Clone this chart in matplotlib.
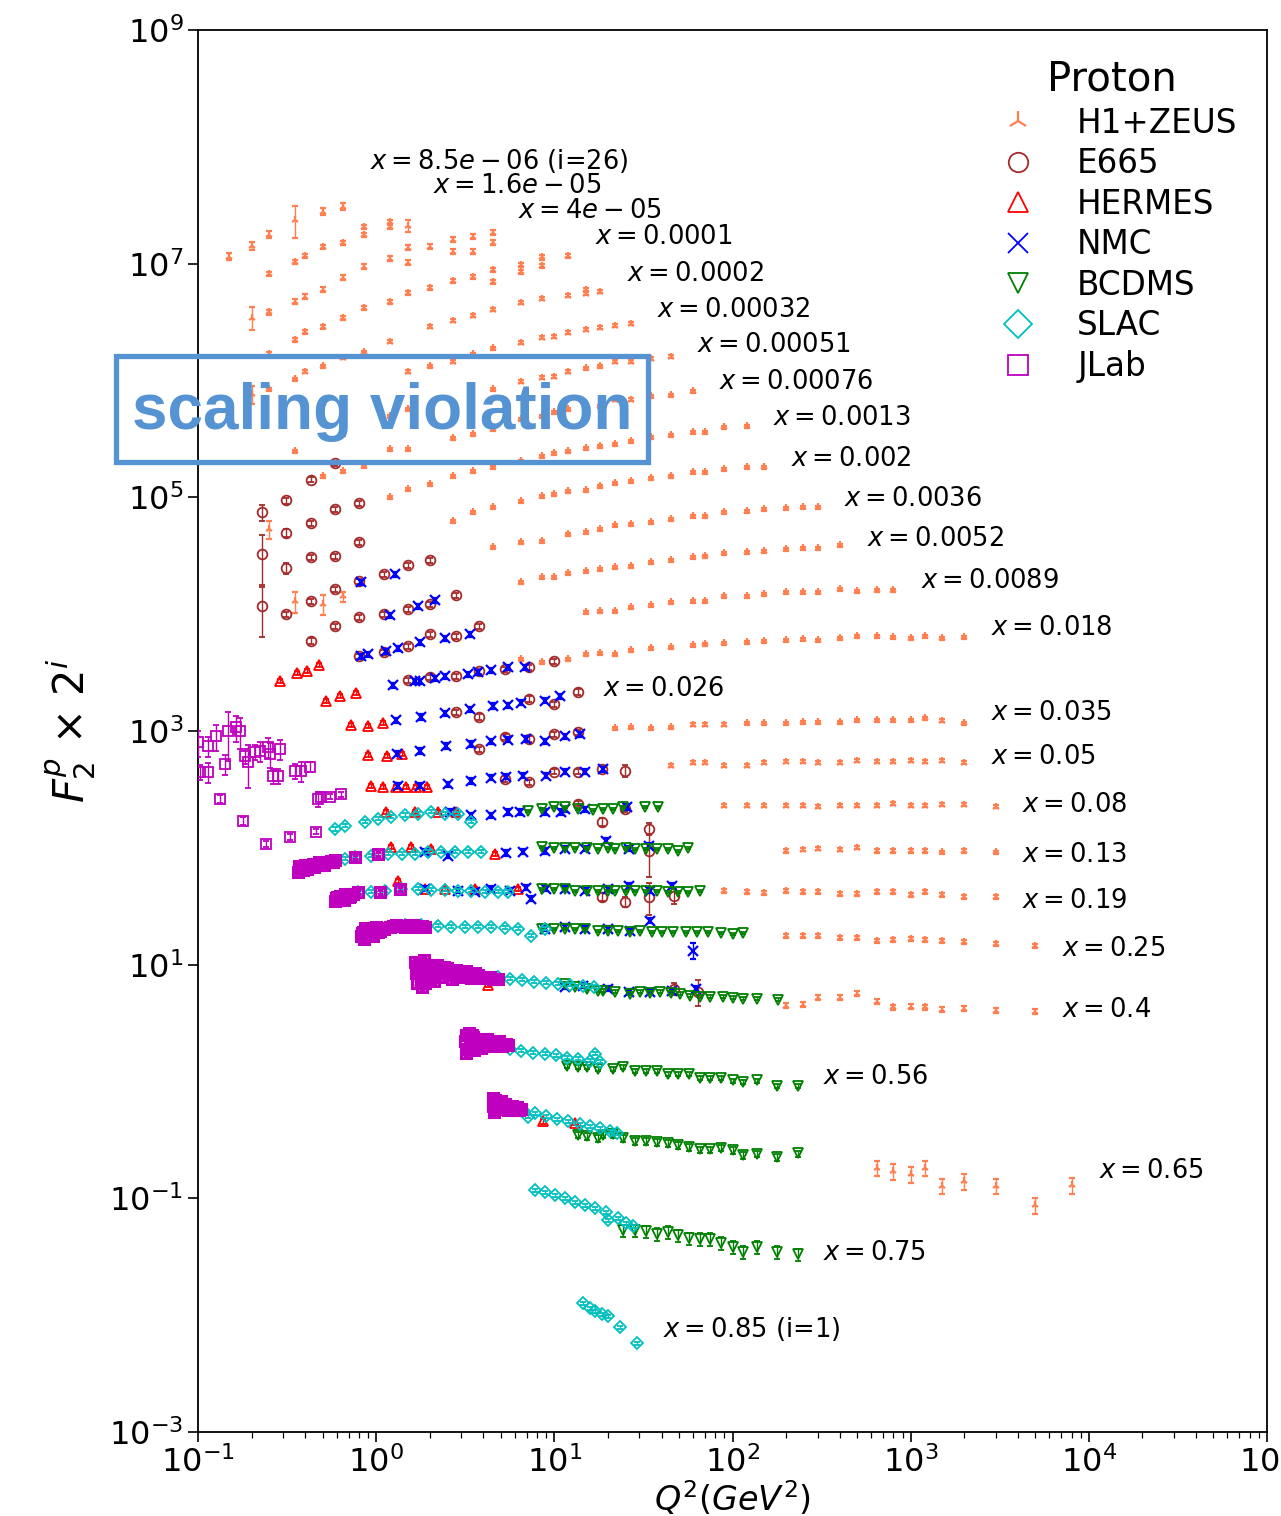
import numpy as np
import matplotlib.pyplot as plt
from matplotlib.lines import Line2D
from matplotlib.patches import Rectangle
from matplotlib.ticker import NullLocator

# ---------------- H1+ZEUS (values are F2 x 2^i, one list per x bin) ----------------
h1_q2 = [
    [0.15, 0.2, 0.25, 0.5, 0.65],
    [0.25, 0.35, 0.4, 0.5, 0.65, 0.85, 0.85, 1.2, 1.2],
    [0.25, 0.35, 0.4, 0.5, 0.65, 0.85, 1.2, 1.5, 1.5, 2.0, 2.7, 2.7, 3.5, 3.5, 4.5, 4.5],
    [0.25, 0.35, 0.4, 0.5, 0.65, 0.85, 1.2, 1.5, 2.0, 2.7, 3.5, 4.5, 4.5, 6.5, 6.5, 8.5, 8.5, 12],
    [0.25, 0.35, 0.4, 0.5, 0.65, 0.85, 1.2, 2.0, 2.7, 3.5, 4.5, 6.5, 8.5, 12, 15, 15, 18],
    [0.4, 0.5, 1.5, 2.0, 2.7, 3.5, 4.5, 6.5, 8.5, 10, 12, 15, 18, 22, 27],
    [0.35, 0.65, 1.2, 1.5, 2.0, 4.5, 6.5, 8.5, 10, 12, 15, 18, 22, 27, 35, 45],
    [0.5, 0.65, 0.85, 1.2, 1.5, 2.7, 3.5, 4.5, 6.5, 8.5, 10, 12, 15, 18, 22, 27, 35, 45, 60],
    [1.2, 1.5, 2.0, 2.7, 3.5, 4.5, 6.5, 8.5, 10, 12, 15, 18, 22, 27, 35, 45, 60, 70, 90, 120],
    [2.7, 3.5, 4.5, 6.5, 8.5, 10, 12, 15, 18, 22, 27, 35, 45, 60, 70, 90, 120, 150],
    [4.5, 6.5, 8.5, 12, 15, 18, 22, 27, 35, 45, 60, 70, 90, 120, 150, 200, 250, 300],
    [6.5, 8.5, 10, 12, 15, 18, 22, 27, 35, 45, 60, 70, 90, 120, 150, 200, 250, 300, 400],
    [15, 18, 22, 27, 35, 45, 60, 70, 90, 120, 150, 200, 250, 300, 400, 500, 650, 800],
    [6.5, 8.5, 12, 15, 18, 22, 27, 35, 45, 60, 70, 90, 120, 150, 200, 250, 300, 400, 500,
     650, 800, 1000, 1200, 1500, 2000],
    [22, 27, 35, 45, 60, 70, 90, 120, 150, 200, 250, 300, 400, 500, 650, 800, 1000, 1200, 1500, 2000],
    [45, 60, 70, 90, 120, 150, 200, 250, 300, 400, 500, 650, 800, 1000, 1200, 1500, 2000],
    [90, 120, 150, 200, 250, 300, 400, 500, 650, 800, 1000, 1200, 1500, 2000, 3000],
    [200, 250, 300, 400, 500, 650, 800, 1000, 1200, 1500, 2000, 3000],
    [90, 120, 150, 200, 250, 300, 400, 500, 650, 800, 1000, 1200, 1500, 2000, 3000],
    [200, 250, 300, 400, 500, 650, 800, 1000, 1200, 1500, 2000, 3000, 5000],
    [200, 250, 300, 400, 500, 650, 800, 1000, 1200, 1500, 2000, 3000, 5000],
    [650, 800, 1000, 1200, 1500, 2000, 3000, 5000, 8000],
]
h1_f2 = [
    [1.15e7, 1.42e7, 1.77e7, 2.78e7, 3.07e7],
    [8.2e6, 1.04e7, 1.17e7, 1.40e7, 1.51e7, 2.07e7, 1.77e7, 2.29e7, 2.07e7],
    [3.82e6, 4.73e6, 5.22e6, 6.0e6, 7.6e6, 9.4e6, 1.10e7, 1.02e7, 1.37e7, 1.40e7, 1.27e7, 1.60e7,
     1.27e7, 1.70e7, 1.51e7, 1.84e7],
    [1.70e6, 2.24e6, 2.62e6, 2.89e6, 3.46e6, 4.2e6, 4.73e6, 5.65e6, 6.23e6, 7.16e6, 7.75e6, 8.9e6,
     7.0e6, 9.8e6, 8.55e6, 1.13e7, 9.6e6, 1.17e7],
    [8.4e5, 1.02e6, 1.19e6, 1.32e6, 1.57e6, 1.74e6, 2.15e6, 2.89e6, 3.26e6, 3.59e6, 4.05e6, 4.64e6,
     5.03e6, 5.33e6, 5.55e6, 6.0e6, 5.77e6],
    [5.77e5, 6.37e5, 1.19e6, 1.32e6, 1.45e6, 1.67e6, 1.88e6, 2.11e6, 2.33e6, 2.38e6, 2.57e6, 2.73e6,
     2.84e6, 2.95e6, 3.07e6],
    [2.47e5, 3.46e5, 4.93e5, 5.65e5, 6.0e5, 8.4e5, 9.8e5, 1.06e6, 1.08e6, 1.19e6, 1.27e6, 1.32e6,
     1.45e6, 1.45e6, 1.54e6, 1.60e6],
    [1.51e5, 1.67e5, 1.84e5, 2.57e5, 2.57e5, 3.19e5, 3.46e5, 3.82e5, 4.64e5, 4.93e5, 5.33e5, 5.65e5,
     6.0e5, 6.0e5, 6.87e5, 6.87e5, 7.3e5, 7.45e5, 8.06e5],
    [1.0e5, 1.17e5, 1.29e5, 1.51e5, 1.67e5, 1.81e5, 2.03e5, 2.24e5, 2.38e5, 2.47e5, 2.62e5, 2.73e5,
     2.84e5, 3.01e5, 3.26e5, 3.39e5, 3.59e5, 3.59e5, 3.97e5, 4.05e5],
    [6.23e4, 7.45e4, 8.2e4, 9.25e4, 1.02e5, 1.06e5, 1.13e5, 1.15e5, 1.24e5, 1.32e5, 1.37e5, 1.45e5,
     1.51e5, 1.64e5, 1.64e5, 1.74e5, 1.81e5, 1.81e5],
    [3.74e4, 4.13e4, 4.21e4, 4.83e4, 5.03e4, 5.33e4, 5.77e4, 5.88e4, 6.12e4, 6.49e4, 6.87e4, 6.87e4,
     7.45e4, 7.6e4, 7.9e4, 8.06e4, 8.2e4, 8.2e4],
    [1.88e4, 2.07e4, 2.07e4, 2.24e4, 2.33e4, 2.42e4, 2.52e4, 2.57e4, 2.78e4, 2.89e4, 3.07e4, 3.13e4,
     3.32e4, 3.39e4, 3.46e4, 3.59e4, 3.66e4, 3.66e4, 3.89e4],
    [1.04e4, 1.06e4, 1.06e4, 1.15e4, 1.19e4, 1.27e4, 1.29e4, 1.29e4, 1.42e4, 1.42e4, 1.48e4, 1.54e4,
     1.54e4, 1.54e4, 1.64e4, 1.57e4, 1.60e4, 1.60e4],
    [4.13e3, 3.89e3, 4.13e3, 4.55e3, 4.64e3, 4.55e3, 4.93e3, 5.13e3, 5.22e3, 5.44e3, 5.55e3, 5.65e3,
     5.77e3, 5.88e3, 6.0e3, 6.12e3, 6.0e3, 6.23e3, 6.49e3, 6.49e3, 6.36e3, 6.23e3, 6.49e3, 6.23e3, 6.36e3],
    [1.06e3, 1.08e3, 1.06e3, 1.08e3, 1.13e3, 1.13e3, 1.13e3, 1.17e3, 1.17e3, 1.17e3, 1.19e3, 1.19e3,
     1.19e3, 1.24e3, 1.24e3, 1.24e3, 1.24e3, 1.29e3, 1.22e3, 1.17e3],
    [503, 533, 533, 503, 503, 533, 544, 544, 533, 533, 555, 544, 544, 555, 544, 555, 533],
    [229, 229, 229, 229, 229, 224, 229, 229, 229, 238, 229, 229, 233, 233, 224],
    [94, 96, 98, 96, 100, 94, 94, 94, 94, 92, 94, 92],
    [43.0, 42.1, 41.3, 43.0, 42.1, 42.1, 40.5, 40.5, 42.1, 42.1, 39.7, 42.1, 39.7, 38.2, 38.2],
    [17.7, 17.7, 17.7, 17.0, 17.0, 16.0, 16.4, 16.7, 16.4, 16.0, 15.7, 15.1, 14.5],
    [4.47, 4.55, 5.22, 5.22, 5.65, 4.83, 4.30, 4.38, 4.30, 4.13, 4.21, 4.05, 3.97],
    [0.181, 0.170, 0.160, 0.181, 0.127, 0.140, 0.127, 0.087, 0.129],
]
h1_err_pct = [7, 4, 5, 4, 3, 3, 3, 3, 3, 3, 3, 3, 3, 3, 3, 3, 3, 3, 4, 4, 5, 15]
# points with large error bars
h1_wide_q2 = [0.35, 1.5, 0.2, 0.2, 0.25, 0.35, 0.5, 0.65]
h1_wide_f2 = [2.38e7, 2.11e7, 3.46e6, 7.6e5, 5.33e4, 1.29e4, 1.22e4, 1.42e4]
h1_wide_pct = [30, 12, 22, 17, 17, 20, 20, 10]

# ---------------- E665 ----------------
e665_q2 = [0.23, 0.31, 0.43, 0.59, 0.23, 0.31, 0.43, 0.59, 0.8, 0.23, 0.31, 0.43, 0.59, 0.8,
           0.31, 0.43, 0.59, 0.8, 1.1, 1.5, 2.0, 2.8, 1.5, 1.1, 0.8, 2.0,
           0.43, 0.59, 0.8, 1.1, 1.5, 2.0, 2.8, 3.8,
           1.5, 2.0, 2.8, 3.8, 5.3, 7.2, 9.9, 2.8, 3.8, 7.2, 9.9, 13.5,
           5.3, 7.2, 3.8, 9.9, 13.5, 5.3, 7.2, 9.9, 13.5, 18.6, 25,
           13.5, 18.6, 25, 34, 34, 18.6, 25, 34, 47, 47, 64]
e665_f2 = [7.45e4, 9.4e4, 1.42e5, 1.95e5, 3.26e4, 4.93e4, 6.0e4, 7.9e4, 8.9e4,
           1.17e4, 2.47e4, 3.07e4, 3.13e4, 4.13e4,
           1.0e4, 1.29e4, 1.64e4, 1.91e4, 2.20e4, 2.62e4, 2.89e4, 1.45e4, 1.10e4, 1.0e4, 9.4e3, 1.22e4,
           5.88e3, 7.9e3, 4.38e3, 4.73e3, 5.33e3, 6.75e3, 6.49e3, 7.9e3,
           2.73e3, 2.89e3, 2.95e3, 3.26e3, 3.39e3, 3.52e3, 3.97e3, 1.45e3, 1.32e3, 1.88e3, 1.70e3, 2.15e3,
           890, 855, 700, 940, 980, 389, 366, 447, 447, 473, 455,
           238, 167, 215, 145, 94, 38.2, 34.6, 38.2, 38.9, 6.23, 5.88]
e665_pct = [15, 6, 5, 5, 45, 8, 5, 5, 5, 45, 10, 5, 5, 5,
            5, 5, 5, 5, 5, 5, 5, 5, 5, 5, 5, 5,
            6, 5, 5, 5, 5, 5, 5, 5,
            5, 5, 5, 5, 5, 5, 5, 5, 5, 5, 5, 6,
            5, 5, 5, 5, 5, 5, 5, 5, 5, 6, 12,
            5, 8, 6, 12, 40, 8, 10, 30, 15, 12, 25]

# ---------------- HERMES ----------------
hermes_q2 = [0.29, 0.36, 0.41, 0.48, 0.52, 0.63, 0.77, 0.72, 0.90, 1.09, 0.90, 1.15, 1.40,
             0.94, 1.09, 1.29, 1.47, 1.68, 1.94, 1.14, 1.66, 2.23, 2.81,
             1.21, 1.57, 2.04, 4.67, 1.33, 1.88, 2.44, 3.6, 6.28, 4.26, 8.67, 13.1]
hermes_f2 = [2.68e3, 3.13e3, 3.26e3, 3.66e3, 1.81e3, 1.99e3, 2.11e3, 1.13e3, 1.10e3, 1.17e3,
             623, 612, 637, 339, 332, 332, 332, 332, 332, 203, 203, 203, 203,
             102, 102, 98, 89, 52.2, 44.7, 44.7, 44.7, 44.7, 6.75, 0.455, 0.438]
hermes_pct = 4

# ---------------- NMC ----------------
nmc_q2 = [0.82, 1.28, 1.72, 2.14, 1.20,
          0.82, 0.90, 1.14, 1.33, 1.77, 2.44, 3.38,
          1.25, 1.66, 1.77, 2.14, 2.44, 3.29, 3.74, 4.43, 5.52, 6.87,
          1.29, 1.79, 2.44, 3.38, 4.5, 5.52, 6.52, 8.89, 10.8,
          1.31, 1.77, 2.47, 3.42, 4.43, 5.52, 6.96, 8.89, 11.5, 14.0,
          1.33, 1.77, 2.54, 3.42, 4.43, 5.37, 6.7, 9.0, 11.5, 14.9, 18.8,
          2.6, 3.42, 4.43, 5.52, 6.45, 8.89, 10.9, 11.5, 14.9, 25.7,
          1.88, 2.54, 5.37, 6.7, 8.89, 11.5, 14.9, 19.4, 26.1, 34.2,
          1.88, 2.89, 3.6, 4.43, 5.66, 6.96, 7.43, 9.0, 11.5, 14.9, 19.9, 26.1, 34.6, 46.0,
          11.5, 8.89, 14.9, 19.9, 26.7, 34.6,
          11.5, 14.4, 19.9, 26.1, 34.6, 46.0, 62.0]
nmc_f2 = [1.88e4, 2.20e4, 1.17e4, 1.32e4, 9.8e3,
          4.38e3, 4.55e3, 4.83e3, 5.13e3, 5.77e3, 6.23e3, 6.75e3,
          2.47e3, 2.68e3, 2.68e3, 2.84e3, 2.95e3, 3.07e3, 3.19e3, 3.32e3, 3.52e3, 3.52e3,
          1.24e3, 1.32e3, 1.42e3, 1.54e3, 1.64e3, 1.67e3, 1.74e3, 1.81e3, 1.99e3,
          637, 675, 745, 775, 820, 840, 855, 820, 905, 940,
          339, 339, 352, 374, 397, 405, 413, 413, 447, 447, 473,
          203, 191, 191, 203, 203, 203, 203, 215, 215, 224,
          92.5, 85.5, 90.5, 92.5, 94, 98, 98, 115, 98, 104,
          44.7, 43.0, 42.1, 44.7, 43.0, 45.5, 36.6, 44.7, 44.7, 43.0, 44.7, 47.3, 43.0, 47.3,
          21.1, 20.3, 20.3, 20.3, 19.5, 23.8,
          6.49, 6.6, 6.23, 5.88, 5.88, 6.0, 6.23]
nmc_pct = 5
nmc_wide_q2 = [60.4]
nmc_wide_f2 = [13.2]
nmc_wide_pct = [15]

# ---------------- BCDMS (one list per x bin) ----------------
bcdms_q2 = [
    [7.15, 8.5, 9.9, 11.5, 13.5, 16.5, 18.8, 21.4, 24.3, 32.4, 38.0],
    [8.5, 9.9, 11.5, 13.1, 15.3, 17.5, 19.9, 22.0, 25.1, 28.5, 32.5, 37.9, 43.2, 49.7, 56.6],
    [8.5, 9.9, 11.5, 13.1, 15.3, 17.5, 19.9, 22.0, 25.1, 28.5, 32.5, 37.9, 43.2, 49.7, 56.6, 66],
    [8.5, 9.9, 11.5, 13.1, 14.9, 17.5, 19.9, 22.9, 26.7, 30.4, 35.5, 40.4, 46.6, 54.5, 63.6, 73.3,
     85.7, 100, 115],
    [11.5, 13.1, 15.3, 17.5, 18.8, 22.0, 26.7, 30.4, 34.6, 39.4, 44.9, 51, 58, 66, 75, 88, 100,
     115, 138, 179],
    [11.8, 13.5, 15.3, 17.5, 21.4, 24.3, 28.5, 32.9, 37.9, 43.2, 49.7, 57.3, 65.3, 75, 86.7, 100,
     115, 138, 177, 232],
    [13.5, 15.3, 17.5, 18.8, 21.4, 24.3, 28.5, 32.9, 37.9, 43.2, 49.7, 57.3, 65.3, 75, 86.7, 100,
     115, 138, 177, 232],
    [24.3, 28.5, 32.9, 37.9, 43.2, 49.7, 57.3, 65.3, 75, 86.7, 100, 115, 138, 177, 232],
]
bcdms_f2 = [
    [207, 215, 224, 224, 215, 211, 215, 215, 224, 224, 224],
    [102, 100, 100, 100, 100, 98, 100, 98, 100, 98, 98, 98, 98, 94, 100],
    [44.7, 44.7, 44.7, 43.0, 43.0, 43.0, 43.0, 43.0, 43.0, 43.0, 43.0, 43.0, 42.1, 42.1, 42.1, 43.0],
    [20.3, 20.3, 20.3, 20.3, 20.3, 19.5, 19.5, 19.5, 19.1, 19.5, 19.1, 19.1, 19.1, 19.1, 19.1, 19.1,
     18.8, 18.4, 18.8],
    [6.87, 6.49, 6.2, 6.0, 6.0, 5.88, 5.65, 5.88, 5.77, 5.88, 5.77, 5.65, 5.44, 5.33, 5.33, 5.33,
     5.22, 5.13, 5.13, 5.03],
    [1.37, 1.34, 1.32, 1.29, 1.29, 1.34, 1.24, 1.22, 1.22, 1.17, 1.15, 1.15, 1.08, 1.08, 1.08, 1.02,
     1.0, 1.02, 0.924, 0.924],
    [0.346, 0.339, 0.326, 0.346, 0.352, 0.326, 0.307, 0.307, 0.301, 0.295, 0.284, 0.273, 0.262,
     0.262, 0.268, 0.257, 0.233, 0.238, 0.224, 0.242],
    [0.0533, 0.0533, 0.0522, 0.0493, 0.0513, 0.0483, 0.0455, 0.0447, 0.0447, 0.0413, 0.0382,
     0.0346, 0.0382, 0.0346, 0.0332],
]
bcdms_err_pct = [2, 2, 2, 2, 3, 4, 6, 12]

# ---------------- SLAC (one list per x bin) ----------------
slac_q2 = [
    [0.59, 0.67, 0.87, 1.03, 1.21, 1.46, 1.72, 2.04, 2.44, 2.89, 3.42],
    [0.67, 0.76, 0.94, 1.17, 1.40, 1.66, 1.96, 2.32, 2.78, 3.29, 3.89],
    [0.79, 0.94, 1.12, 1.38, 1.72, 2.04, 2.44, 2.89, 3.42, 4.09, 4.84, 5.52],
    [1.25, 1.46, 1.79, 2.23, 2.64, 3.16, 3.74, 4.43, 5.3, 6.28, 7.43, 8.89],
    [4.84, 5.66, 6.6, 7.7, 9.0, 10.5, 12.3, 14.4, 16.8],
    [5.66, 6.52, 7.6, 8.89, 10.2, 11.8, 13.5, 15.9, 17.0, 18.1],
    [6.7, 7.15, 7.8, 9.0, 10.4, 12.0, 14.0, 15.9, 18.1, 20.6, 22.6],
    [7.8, 8.9, 10.1, 11.5, 13.1, 14.9, 17.0, 19.4, 20.1, 22.9, 25.1, 27.5],
    [14.5, 15.9, 17.0, 18.6, 20.1, 23.4, 29.0],
]
slac_f2 = [
    [145, 154, 167, 177, 184, 191, 195, 203, 195, 195, 167],
    [80.6, 84, 85.5, 89, 89, 89, 92.5, 92.5, 92.5, 92.5, 92.5],
    [42.1, 42.1, 43.0, 44.7, 44.7, 43.8, 43.8, 43.0, 43.0, 42.1, 42.1, 42.1],
    [21.5, 22.0, 22.0, 21.5, 21.1, 21.1, 21.1, 21.1, 20.7, 20.3, 17.7, 20.3],
    [7.9, 7.6, 7.45, 7.16, 7.0, 6.87, 6.75, 6.6, 6.49],
    [1.91, 1.84, 1.77, 1.73, 1.67, 1.60, 1.57, 1.51, 1.73, 1.48],
    [0.565, 0.50, 0.533, 0.503, 0.473, 0.455, 0.430, 0.413, 0.397, 0.374, 0.359],
    [0.117, 0.113, 0.106, 0.100, 0.0925, 0.0872, 0.082, 0.076, 0.065, 0.0675, 0.061, 0.0577],
    [0.0127, 0.0115, 0.0108, 0.0102, 0.0098, 0.0079, 0.00577],
]
slac_pct = 3

# ---------------- JLab ----------------
jlab_q2 = [0.10, 0.114, 0.126, 0.142, 0.147, 0.163, 0.172, 0.103, 0.114, 0.133, 0.184, 0.191,
           0.209, 0.223, 0.247, 0.254, 0.289, 0.281, 0.264, 0.351, 0.379, 0.426, 0.472, 0.491,
           0.552, 0.636, 0.179, 0.241, 0.329, 0.46]
jlab_f2 = [806, 745, 905, 522, 1000, 1080, 1000, 447, 447, 262, 612, 544,
           660, 675, 730, 637, 700, 413, 413, 455, 455, 493, 262, 273,
           273, 289, 170, 108, 124, 137]
jlab_pct = [25, 20, 25, 20, 45, 25, 30, 15, 20, 8, 15, 40,
            15, 20, 20, 25, 20, 15, 15, 15, 20, 10, 15, 10,
            5, 5, 8, 5, 5, 5]
# dense low-W clusters, one list per x bin
jlab_blob_q2 = [
    [0.365, 0.37, 0.37, 0.38, 0.39, 0.39, 0.40, 0.41, 0.41, 0.42, 0.43, 0.44, 0.45, 0.46, 0.47,
     0.48, 0.49, 0.50, 0.51, 0.53, 0.54, 0.56, 0.57, 0.59, 0.76, 1.03],
    [0.59, 0.595, 0.60, 0.61, 0.62, 0.63, 0.64, 0.65, 0.66, 0.67, 0.68, 0.70, 0.71, 0.72, 0.74,
     0.79, 1.05, 1.36],
    [0.82, 0.83, 0.84, 0.85, 0.86, 0.87, 0.88, 0.89, 0.90, 0.91, 0.93, 0.95, 0.96, 0.98, 1.0,
     1.02, 1.05, 1.08, 1.1, 1.2, 1.25, 1.3, 1.35, 1.4, 1.45, 1.5, 1.55, 1.6, 1.7, 1.75, 1.8, 1.88],
    [1.66, 1.68, 1.7, 1.72, 1.75, 1.78, 1.8, 1.82, 1.85, 1.88, 1.9, 1.95, 2.0, 2.05, 2.1, 2.15,
     2.2, 2.25, 2.35, 2.4, 2.5, 2.55, 2.65, 2.7, 2.8, 2.9, 3.0, 3.1, 3.2, 3.3, 3.4, 3.5, 3.6,
     3.75, 3.9, 4.05, 4.2, 4.35, 4.5, 4.65, 4.84],
    [3.16, 3.18, 3.2, 3.25, 3.3, 3.35, 3.4, 3.45, 3.5, 3.55, 3.6, 3.7, 3.8, 3.9, 4.0, 4.1, 4.2,
     4.3, 4.4, 4.5, 4.6, 4.7, 4.8, 4.9, 5.0, 5.1, 5.2, 5.35, 5.5],
    [4.5, 4.55, 4.6, 4.65, 4.7, 4.75, 4.8, 4.9, 5.0, 5.1, 5.2, 5.3, 5.4, 5.5, 5.6, 5.75, 5.9,
     6.05, 6.2, 6.35, 6.5],
]
jlab_blob_f2 = [
    [62, 64, 70, 66, 64, 68, 72, 66, 68, 70, 70, 73, 69, 72, 71, 75, 73, 74, 72, 76, 75, 77, 76,
     78, 84, 89],
    [35, 37, 38, 35.5, 36, 39, 38, 37, 36, 40, 39, 38, 38.5, 40, 40, 42, 42, 44.7],
    [17.5, 18.5, 19, 17, 16.5, 20.5, 20, 18, 18, 19.5, 19.5, 18.5, 17.5, 20, 21, 19, 19.5, 20.5,
     20, 21, 21.5, 22, 21.5, 21.5, 21, 21.5, 21.8, 22, 21.2, 21.5, 21.5, 21],
    [10.5, 8.5, 7.0, 9.8, 9.0, 7.5, 6.4, 10.2, 11.0, 7.0, 8.0, 9.2, 9.5, 8.0, 7.2, 9.0, 10.0,
     7.8, 8.5, 9.6, 9.4, 8.2, 7.5, 8.6, 9.0, 8.4, 8.0, 7.8, 8.8, 8.3, 7.7, 8.0, 8.5, 8.1, 7.9,
     7.7, 7.9, 7.8, 7.6, 7.5, 7.6],
    [2.2, 2.5, 1.75, 1.9, 2.6, 2.1, 1.9, 2.5, 2.4, 1.85, 2.0, 2.3, 2.2, 1.95, 2.1, 2.2, 2.3,
     2.0, 2.1, 2.15, 2.2, 2.05, 2.15, 2.2, 2.1, 2.0, 2.1, 2.1, 2.05],
    [0.72, 0.62, 0.55, 0.70, 0.65, 0.58, 0.60, 0.66, 0.68, 0.62, 0.58, 0.64, 0.62, 0.57, 0.60,
     0.62, 0.57, 0.60, 0.60, 0.57, 0.58],
]
jlab_blob_pct = 4

# ---------------- bin labels ----------------
bin_x = ['8.5e-06', '1.6e-05', '4e-05', '0.0001', '0.0002', '0.00032', '0.00051', '0.00076',
         '0.0013', '0.002', '0.0036', '0.0052', '0.0089', '0.018', '0.026', '0.035', '0.05',
         '0.08', '0.13', '0.19', '0.25', '0.4', '0.56', '0.65', '0.75', '0.85']
label_q2 = [0.925, 2.09, 6.28, 17.0, 25.7, 37.9, 63.6, 84.5, 168, 212, 421, 566, 1138, 2812,
            18.8, 2812, 2812, 4207, 4207, 4207, 7050, 7050, 324, 11380, 324, 40.9]
label_f2 = [7.6e7, 4.64e7, 2.84e7, 1.70e7, 8.2e6, 4.05e6, 2.03e6, 9.8e5, 4.73e5, 2.11e5, 9.6e4,
            4.38e4, 1.91e4, 7.6e3, 2.29e3, 1.42e3, 6.0e2, 2.33e2, 87, 35.2, 13.7, 4.13, 1.10,
            0.170, 0.0339, 0.0076]

experiments = ['H1+ZEUS', 'E665', 'HERMES', 'NMC', 'BCDMS', 'SLAC', 'JLab']
markers = ['2', 'o', '^', 'x', 'v', 'D', 's']
colors = ['coral', 'brown', 'red', 'blue', 'green', 'c', 'm']


def flat(rows):
    return np.array([v for r in rows for v in r])


def draw(ax, q2, f2, pct, k, ms=7, mew=1.3):
    q2 = np.asarray(q2, float)
    f2 = np.asarray(f2, float)
    err = f2 * np.asarray(pct, float) / 100.0
    ax.errorbar(q2, f2, yerr=err, fmt=markers[k], color=colors[k], mfc='none', ms=ms, mew=mew,
                ls='none', elinewidth=1.0, capsize=2.5, capthick=1.0, zorder=2 + k)


def main():
    fig = plt.figure(figsize=(12.81, 15.16), dpi=100)
    ax = fig.add_axes([198 / 1281, 1 - 1432 / 1516, 1069 / 1281, 1402 / 1516])

    # H1+ZEUS
    h1_pct_rows = [[p] * len(r) for p, r in zip(h1_err_pct, h1_q2)]
    draw(ax, flat(h1_q2), flat(h1_f2), flat(h1_pct_rows), 0, ms=6, mew=1.6)
    draw(ax, h1_wide_q2, h1_wide_f2, h1_wide_pct, 0, ms=6, mew=1.6)
    # E665
    draw(ax, e665_q2, e665_f2, e665_pct, 1)
    # HERMES
    draw(ax, hermes_q2, hermes_f2, hermes_pct, 2)
    # NMC
    draw(ax, nmc_q2, nmc_f2, nmc_pct, 3, ms=6.5, mew=1.6)
    draw(ax, nmc_wide_q2, nmc_wide_f2, nmc_wide_pct, 3, ms=6.5, mew=1.6)
    # BCDMS
    b_pct_rows = [[p] * len(r) for p, r in zip(bcdms_err_pct, bcdms_q2)]
    draw(ax, flat(bcdms_q2), flat(bcdms_f2), flat(b_pct_rows), 4, ms=7.5)
    # SLAC
    draw(ax, flat(slac_q2), flat(slac_f2), slac_pct, 5, ms=6)
    # JLab
    draw(ax, jlab_q2, jlab_f2, jlab_pct, 6, ms=6.5)
    draw(ax, flat(jlab_blob_q2), flat(jlab_blob_f2), jlab_blob_pct, 6, ms=6.5, mew=2.2)

    # bin labels
    for k, (xs, q, f) in enumerate(zip(bin_x, label_q2, label_f2)):
        txt = r'$x = %s$' % xs
        if k == 0:
            txt += ' (i=26)'
        if k == len(bin_x) - 1:
            txt += ' (i=1)'
        ax.text(q, f, txt, fontsize=18.5, ha='left', va='center', zorder=20)

    ax.set_xscale('log')
    ax.set_yscale('log')
    ax.set_xlim(0.1, 1e5)
    ax.set_ylim(1e-3, 1e9)
    ax.set_yticks([1e-3, 1e-1, 1e1, 1e3, 1e5, 1e7, 1e9])
    ax.yaxis.set_minor_locator(NullLocator())
    ax.tick_params(which='major', labelsize=23, length=7, width=1.2)
    ax.tick_params(which='minor', length=4, width=0.9)
    for s in ax.spines.values():
        s.set_linewidth(1.3)

    ax.set_xlabel(r'$Q^2(GeV^2)$', fontsize=24, labelpad=0)
    ax.set_ylabel(r'$F_2^p$ $\times$ $2^i$', fontsize=30, labelpad=8)

    handles = [Line2D([], [], marker=m, ls='none', color=c, mfc='none', ms=7,
                      mew=1.3 if m != '2' else 1.6)
               for m, c in zip(markers, colors)]
    ax.legend(handles, experiments, title='Proton', loc='upper right', frameon=False,
              fontsize=23.5, title_fontsize=29, markerscale=2, handletextpad=0.8,
              labelspacing=0.23)

    # "scaling violation" annotation box
    blue = '#5593D3'
    fig.add_artist(Rectangle((116 / 1281, 1 - 462 / 1516), 532 / 1281, 106 / 1516,
                             transform=fig.transFigure, fill=False, ec=blue, lw=3.8, zorder=30))
    fig.text(382 / 1281, 1 - 412 / 1516, 'scaling violation', color=blue, fontsize=46,
             fontweight='bold', family='Liberation Sans', ha='center', va='center', zorder=31)

    fig.savefig('out.png', dpi=100)


if __name__ == '__main__':
    main()
